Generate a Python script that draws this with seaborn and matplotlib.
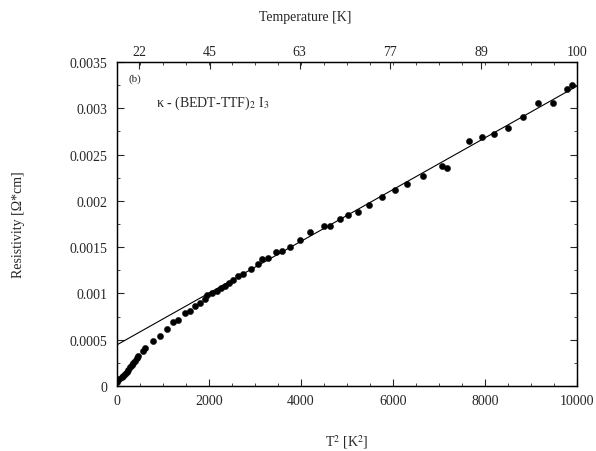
import matplotlib
matplotlib.use("Agg")
import matplotlib.pyplot as plt
from matplotlib.ticker import MultipleLocator, FixedLocator, FuncFormatter
import pandas as pd
import seaborn as sns

# Datenpunkte (T^2 in K^2, Widerstand in Ohm*cm)
t2 = [7, 50, 102, 140, 174, 210, 246, 285, 320, 355, 391, 430, 463, 559, 609, 789, 935,
      1080, 1224, 1333, 1478, 1587, 1696, 1804, 1913, 1963, 2058, 2167, 2254, 2348,
      2441, 2529, 2638, 2746, 2906, 3072, 3145, 3290, 3457, 3580, 3761, 3978, 4196,
      4500, 4630, 4848, 5029, 5246, 5485, 5754, 6043, 6311, 6659, 7059, 7167, 7659,
      7928, 8196, 8507, 8833, 9159, 9472, 9776, 9885]
rho = [0.000040, 0.000075, 0.000094, 0.000112, 0.00013, 0.000152, 0.000176, 0.0002,
       0.000227, 0.00025, 0.000273, 0.000298, 0.000321, 0.000381, 0.00041, 0.000486,
       0.000543, 0.000616, 0.000688, 0.000713, 0.000785, 0.000807, 0.000861, 0.000896,
       0.00094, 0.000983, 0.00100, 0.00103, 0.001055, 0.001083, 0.001112, 0.001145,
       0.001185, 0.00121, 0.001263, 0.001317, 0.001371, 0.00138, 0.00145, 0.00146,
       0.0015, 0.00158, 0.00166, 0.00173, 0.00173, 0.0018, 0.00185, 0.00188, 0.00196,
       0.00204, 0.00212, 0.00218, 0.00227, 0.00238, 0.00235, 0.00265, 0.00269, 0.00272,
       0.00279, 0.00291, 0.00306, 0.00306, 0.00321, 0.00325]

fit_t2 = [0, 10000]
fit_rho = [0.000445, 0.00324]

# obere Achse: Temperatur
temp_labels = [22, 45, 63, 77, 89, 100]

df = pd.DataFrame({"T2": t2, "rho": rho})
fit = pd.DataFrame({"T2": fit_t2, "rho": fit_rho})

sns.set_style("ticks")
plt.rcParams["font.family"] = ["Liberation Serif", "DejaVu Serif"]
plt.rcParams["mathtext.fontset"] = "stix"

fig = plt.figure(figsize=(5.96, 4.52), dpi=100)
ax = fig.add_axes([0.1963, 0.1438, 0.7718, 0.7168])

sns.lineplot(data=fit, x="T2", y="rho", ax=ax, color="black", linewidth=0.8)
sns.scatterplot(data=df, x="T2", y="rho", ax=ax, color="black", s=20,
                edgecolor="black", linewidth=0.3, zorder=3)

ax.set_xlim(0, 10000)
ax.set_ylim(0, 0.0035)
ax.xaxis.set_major_locator(MultipleLocator(2000))
ax.xaxis.set_minor_locator(MultipleLocator(500))
ax.yaxis.set_major_locator(MultipleLocator(0.0005))
ax.yaxis.set_minor_locator(MultipleLocator(0.00025))
ax.yaxis.set_major_formatter(FuncFormatter(lambda v, p: f"{v:g}"))
ax.tick_params(which="both", direction="in", right=True, labelsize=10)
ax.tick_params(which="major", length=5)
ax.tick_params(which="minor", length=2.5)
ax.tick_params(axis="y", pad=7)
ax.tick_params(axis="x", pad=6)

ax.set_xlabel("T$^2$ [K$^2$]", fontsize=10, labelpad=18)
ax.set_ylabel("Resistivity [Ω*cm]", fontsize=10, labelpad=32)

top = ax.twiny()
top.set_xlim(ax.get_xlim())
top.xaxis.set_major_locator(FixedLocator([t ** 2 for t in temp_labels]))
top.xaxis.set_major_formatter(FuncFormatter(lambda v, p: f"{round(v ** 0.5):d}"))
top.xaxis.set_minor_locator(MultipleLocator(500))
top.tick_params(which="both", direction="in", labelsize=10, pad=3)
top.tick_params(which="major", length=5)
top.tick_params(which="minor", length=2.5)
top.set_xlabel("Temperature [K]", fontsize=10, labelpad=14)
top.xaxis.set_label_coords(0.41, 1.13)

for a in (ax, top):
    for sp in a.spines.values():
        sp.set_linewidth(0.9)
        sp.set_color("black")

ax.text(0.025, 0.965, "(b)", transform=ax.transAxes, fontsize=8, va="top")
ax.text(0.085, 0.875, "κ - (BEDT-TTF)$_2$ I$_3$", transform=ax.transAxes,
        fontsize=10, va="center")

fig.savefig("out.png", dpi=100)
